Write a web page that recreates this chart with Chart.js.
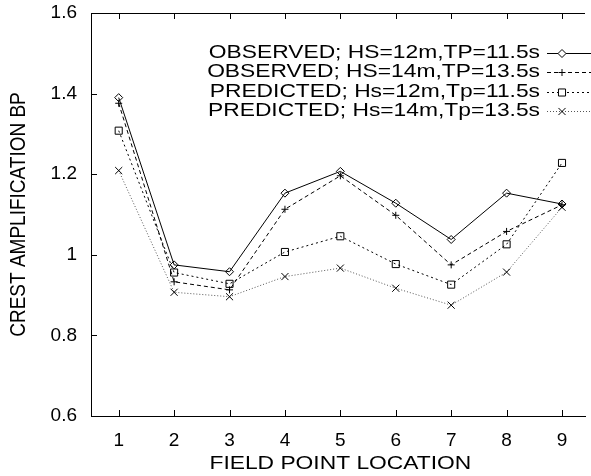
<!DOCTYPE html>
<html>
<head>
<meta charset="utf-8">
<script src="https://cdn.jsdelivr.net/npm/chart.js@4/dist/chart.umd.min.js"></script>
<style>
  html, body { margin: 0; padding: 0; background: #fff; }
  #wrap { width: 591px; height: 476px; }
</style>
</head>
<body>
<div id="wrap"><canvas id="chart" width="591" height="476"></canvas></div>
<script>
"use strict";

// crest amplification at each field point
const fieldPoints = [1, 2, 3, 4, 5, 6, 7, 8, 9];
const observedHs12 = [1.390, 0.975, 0.958, 1.153, 1.207, 1.128, 1.038, 1.153, 1.126];
const observedHs14 = [1.376, 0.933, 0.913, 1.113, 1.196, 1.098, 0.975, 1.058, 1.124];
const predictedHs12 = [1.308, 0.956, 0.928, 1.007, 1.046, 0.977, 0.926, 1.026, 1.228];
const predictedHs14 = [1.209, 0.907, 0.896, 0.946, 0.967, 0.917, 0.875, 0.957, 1.118];

const seriesLabels = [
  "OBSERVED; HS=12m,TP=11.5s",
  "OBSERVED; HS=14m,TP=13.5s",
  "PREDICTED; Hs=12m,Tp=11.5s",
  "PREDICTED; Hs=14m,Tp=13.5s"
];

const xTicks = [1, 2, 3, 4, 5, 6, 7, 8, 9];
const yTicks = [0.6, 0.8, 1.0, 1.2, 1.4, 1.6];
const yTickLabels = ["0.6", "0.8", "1", "1.2", "1.4", "1.6"];
const xTitle = "FIELD POINT LOCATION";
const yTitle = "CREST AMPLIFICATION BP";

const FONT = "'Liberation Sans', Arial, Helvetica, sans-serif";
const STRETCH = 1.2;   // the lettering is a little wide

function points(values) {
  return values.map((v, i) => ({ x: fieldPoints[i], y: v }));
}

function makeDataset(label, values, style) {
  return Object.assign({
    label: label,
    data: points(values),
    borderColor: "#000",
    borderWidth: 1,
    pointBorderColor: "#000",
    pointBackgroundColor: "rgba(255,255,255,0)",
    pointBorderWidth: 1,
    fill: false,
    tension: 0
  }, style);
}

const datasets = [
  makeDataset(seriesLabels[0], observedHs12, {
    pointStyle: "rectRot", pointRadius: 4
  }),
  makeDataset(seriesLabels[1], observedHs14, {
    borderDash: [4, 3], pointStyle: "cross", pointRadius: 3.5
  }),
  makeDataset(seriesLabels[2], predictedHs12, {
    borderDash: [2, 3], pointStyle: "rect", pointRadius: 5
  }),
  makeDataset(seriesLabels[3], predictedHs14, {
    borderColor: "#555", borderDash: [1, 2], pointStyle: "crossRot", pointRadius: 5
  })
];

// gnuplot style frame: ticks pointing into the plot, plus the top border
const frameTicks = {
  id: "frameTicks",
  afterDraw(chart) {
    const ctx = chart.ctx;
    const area = chart.chartArea;
    const xs = chart.scales.x;
    const ys = chart.scales.y;
    const len = 6;
    ctx.save();
    ctx.strokeStyle = "#000";
    ctx.lineWidth = 1;
    ctx.beginPath();
    ctx.moveTo(area.left, Math.round(area.top) + 0.5);
    ctx.lineTo(area.right, Math.round(area.top) + 0.5);
    for (const t of xTicks) {
      const px = Math.round(xs.getPixelForValue(t)) + 0.5;
      ctx.moveTo(px, area.bottom);
      ctx.lineTo(px, area.bottom - len);
      ctx.moveTo(px, area.top);
      ctx.lineTo(px, area.top + len);
    }
    for (const t of yTicks) {
      const py = Math.round(ys.getPixelForValue(t)) + 0.5;
      ctx.moveTo(area.left, py);
      ctx.lineTo(area.left + len, py);
    }
    ctx.stroke();
    ctx.restore();
  }
};

// axis titles, drawn wide like the rest of the lettering
const axisTitles = {
  id: "axisTitles",
  afterDraw(chart) {
    const ctx = chart.ctx;
    const xs = chart.scales.x;
    const ys = chart.scales.y;
    ctx.save();
    ctx.font = "19px " + FONT;
    ctx.fillStyle = "#000";
    ctx.textAlign = "center";
    ctx.textBaseline = "alphabetic";

    const cx = (xs.getPixelForValue(0.5) + xs.getPixelForValue(9.5)) / 2;
    ctx.save();
    ctx.translate(cx, 469);
    ctx.scale(STRETCH, 1);
    ctx.fillText(xTitle, 0, 0);
    ctx.restore();

    const cy = (ys.top + ys.bottom) / 2;
    ctx.save();
    ctx.translate(25, cy);
    ctx.rotate(-Math.PI / 2);
    ctx.scale(1, STRETCH);
    ctx.fillText(yTitle, 0, 0);
    ctx.restore();
    ctx.restore();
  }
};

// key in the top right corner: right aligned text, sample line after it
const keyBox = {
  id: "keyBox",
  afterDatasetsDraw(chart) {
    const ctx = chart.ctx;
    const textRight = 540;
    const lineLeft = 547;
    const lineRight = 600;
    const markX = 562;
    const top = 52.5;
    const step = 19.5;
    ctx.save();
    ctx.font = "19px " + FONT;
    ctx.fillStyle = "#000";
    ctx.textAlign = "right";
    ctx.textBaseline = "middle";
    chart.data.datasets.forEach((ds, i) => {
      const y = top + i * step;
      ctx.save();
      ctx.translate(textRight, y);
      ctx.scale(STRETCH, 1);
      ctx.fillText(ds.label, 0, 0);
      ctx.restore();
      ctx.save();
      ctx.strokeStyle = ds.borderColor;
      ctx.lineWidth = ds.borderWidth;
      ctx.setLineDash(ds.borderDash || []);
      ctx.beginPath();
      ctx.moveTo(lineLeft, Math.round(y) + 0.5);
      ctx.lineTo(lineRight, Math.round(y) + 0.5);
      ctx.stroke();
      ctx.setLineDash([]);
      ctx.fillStyle = "#fff";
      ctx.strokeStyle = "#000";
      Chart.helpers.drawPoint(ctx, {
        pointStyle: ds.pointStyle,
        radius: ds.pointRadius,
        borderWidth: 1,
        rotation: 0
      }, markX, Math.round(y) + 0.5);
      ctx.restore();
    });
    ctx.restore();
  }
};

new Chart(document.getElementById("chart"), {
  type: "line",
  data: { datasets: datasets },
  options: {
    responsive: false,
    animation: false,
    events: [],
    layout: { padding: { top: 13, right: 0, left: 0, bottom: 0 } },
    plugins: {
      legend: { display: false },
      tooltip: { enabled: false }
    },
    scales: {
      x: {
        type: "linear",
        min: 0.5,
        max: 9.415,
        afterBuildTicks: s => { s.ticks = xTicks.map(v => ({ value: v })); },
        afterFit: s => { s.height = 60; s.paddingLeft = 0; s.paddingRight = 0; },
        grid: { display: false, drawTicks: false },
        border: { display: true, color: "#000", width: 1 },
        ticks: {
          color: "#000",
          font: { family: FONT, size: 19 },
          padding: 13,
          maxRotation: 0,
          autoSkip: false,
          callback: v => String(v)
        }
      },
      y: {
        type: "linear",
        min: 0.6,
        max: 1.6,
        afterBuildTicks: s => { s.ticks = yTicks.map(v => ({ value: v })); },
        afterFit: s => { s.width = 91; s.paddingTop = 0; s.paddingBottom = 0; },
        grid: { display: false, drawTicks: false },
        border: { display: true, color: "#000", width: 1 },
        ticks: {
          color: "#000",
          font: { family: FONT, size: 19 },
          padding: 14,
          autoSkip: false,
          callback: (v) => yTickLabels[yTicks.findIndex(t => Math.abs(t - v) < 1e-6)]
        }
      }
    }
  },
  plugins: [frameTicks, axisTitles, keyBox]
});
</script>
</body>
</html>
